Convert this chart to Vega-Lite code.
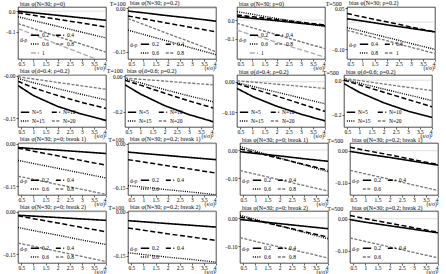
{
"$schema":"https://vega.github.io/schema/vega-lite/v6.json",
"padding":{"left":1,"right":1,"top":0,"bottom":0},
"background":"white",
"config":{
 "font":"Liberation Serif",
 "view":{"stroke":"#000","strokeWidth":0.7},
 "axis":{"labelFont":"Liberation Serif","labelFontSize":5.5,"titleFont":"Liberation Serif","titleFontSize":5.5,"titleFontWeight":"normal","domain":false,"grid":false,"tickSize":2,"tickColor":"#000","labelColor":"#000","labelPadding":1,"tickWidth":0.6},
 "axisX":{"titleAnchor":"end","titlePadding":-1,"labelPadding":0},
 "legend":{"orient":"bottom-left","direction":"horizontal","columns":2,"symbolType":"stroke","symbolSize":70,"labelFont":"Liberation Serif","labelFontSize":5.5,"titleFont":"Liberation Serif","titleFontSize":5.5,"titleFontWeight":"normal","titleOrient":"left","titlePadding":2,"padding":0,"offset":2,"rowPadding":-1,"columnPadding":3,"labelOffset":2,"titleBaseline":"bottom"},
 "title":{"font":"Liberation Serif","fontSize":6,"fontWeight":"normal","color":"#000"},
 "concat":{"spacing":4}
},
"data":{"values":[
{"p":1,"s":"0.2","x":0.36,"y":0},{"p":1,"s":"0.2","x":1,"y":-0.008},{"p":1,"s":"0.2","x":2,"y":-0.02},{"p":1,"s":"0.2","x":3,"y":-0.032},{"p":1,"s":"0.2","x":4,"y":-0.044},
{"p":1,"s":"0.4","x":0.36,"y":-0.008},{"p":1,"s":"0.4","x":1,"y":-0.02},{"p":1,"s":"0.4","x":2,"y":-0.039},{"p":1,"s":"0.4","x":3,"y":-0.057},{"p":1,"s":"0.4","x":4,"y":-0.076},
{"p":1,"s":"0.6","x":0.36,"y":-0.027},{"p":1,"s":"0.6","x":1,"y":-0.045},{"p":1,"s":"0.6","x":2,"y":-0.073},{"p":1,"s":"0.6","x":3,"y":-0.101},{"p":1,"s":"0.6","x":4,"y":-0.129},
{"p":1,"s":"0.8","x":0.36,"y":-0.06},{"p":1,"s":"0.8","x":1,"y":-0.084},{"p":1,"s":"0.8","x":2,"y":-0.122},{"p":1,"s":"0.8","x":3,"y":-0.159},{"p":1,"s":"0.8","x":4,"y":-0.197},
{"p":1,"s":"1","x":0.36,"y":-0.084},{"p":1,"s":"1","x":1,"y":-0.113},{"p":1,"s":"1","x":2,"y":-0.159},{"p":1,"s":"1","x":3,"y":-0.204},{"p":1,"s":"1","x":4,"y":-0.25},
{"p":2,"s":"0.2","x":0.36,"y":-0.009},{"p":2,"s":"0.2","x":1,"y":-0.015},{"p":2,"s":"0.2","x":2,"y":-0.025},{"p":2,"s":"0.2","x":3,"y":-0.034},{"p":2,"s":"0.2","x":4,"y":-0.044},
{"p":2,"s":"0.4","x":0.36,"y":-0.026},{"p":2,"s":"0.4","x":1,"y":-0.036},{"p":2,"s":"0.4","x":2,"y":-0.051},{"p":2,"s":"0.4","x":3,"y":-0.066},{"p":2,"s":"0.4","x":4,"y":-0.081},
{"p":2,"s":"0.6","x":0.36,"y":-0.075},{"p":2,"s":"0.6","x":1,"y":-0.09},{"p":2,"s":"0.6","x":2,"y":-0.113},{"p":2,"s":"0.6","x":3,"y":-0.137},{"p":2,"s":"0.6","x":4,"y":-0.16},
{"p":2,"s":"0.8","x":0.36,"y":-0.035},{"p":2,"s":"0.8","x":1,"y":-0.055},{"p":2,"s":"0.8","x":2,"y":-0.087},{"p":2,"s":"0.8","x":3,"y":-0.118},{"p":2,"s":"0.8","x":4,"y":-0.15},
{"p":3,"s":"0.2","x":0.36,"y":0.018},{"p":3,"s":"0.2","x":1,"y":0.009},{"p":3,"s":"0.2","x":2,"y":-0.004},{"p":3,"s":"0.2","x":3,"y":-0.018},{"p":3,"s":"0.2","x":4,"y":-0.031},
{"p":3,"s":"0.4","x":0.36,"y":0.027},{"p":3,"s":"0.4","x":1,"y":0.017},{"p":3,"s":"0.4","x":2,"y":0.003},{"p":3,"s":"0.4","x":3,"y":-0.012},{"p":3,"s":"0.4","x":4,"y":-0.027},
{"p":3,"s":"0.6","x":0.36,"y":0.045},{"p":3,"s":"0.6","x":1,"y":0.031},{"p":3,"s":"0.6","x":2,"y":0.008},{"p":3,"s":"0.6","x":3,"y":-0.014},{"p":3,"s":"0.6","x":4,"y":-0.036},
{"p":3,"s":"0.8","x":0.36,"y":-0.018},{"p":3,"s":"0.8","x":1,"y":-0.042},{"p":3,"s":"0.8","x":2,"y":-0.079},{"p":3,"s":"0.8","x":3,"y":-0.117},{"p":3,"s":"0.8","x":4,"y":-0.154},
{"p":3,"s":"1","x":0.36,"y":-0.055},{"p":3,"s":"1","x":1,"y":-0.081},{"p":3,"s":"1","x":2,"y":-0.12},{"p":3,"s":"1","x":3,"y":-0.16},{"p":3,"s":"1","x":4,"y":-0.2},
{"p":4,"s":"0.4","x":0.36,"y":0.012},{"p":4,"s":"0.4","x":1,"y":0.004},{"p":4,"s":"0.4","x":2,"y":-0.01},{"p":4,"s":"0.4","x":3,"y":-0.023},{"p":4,"s":"0.4","x":4,"y":-0.036},
{"p":4,"s":"0.6","x":0.36,"y":0.031},{"p":4,"s":"0.6","x":1,"y":0.019},{"p":4,"s":"0.6","x":2,"y":0.001},{"p":4,"s":"0.6","x":3,"y":-0.018},{"p":4,"s":"0.6","x":4,"y":-0.036},
{"p":4,"s":"0.8","x":0.36,"y":-0.02},{"p":4,"s":"0.8","x":1,"y":-0.034},{"p":4,"s":"0.8","x":2,"y":-0.056},{"p":4,"s":"0.8","x":3,"y":-0.078},{"p":4,"s":"0.8","x":4,"y":-0.1},
{"p":4,"s":"1","x":0.36,"y":-0.03},{"p":4,"s":"1","x":1,"y":-0.045},{"p":4,"s":"1","x":2,"y":-0.068},{"p":4,"s":"1","x":3,"y":-0.092},{"p":4,"s":"1","x":4,"y":-0.115},
{"p":5,"s":"N=5","x":0.36,"y":-0.035},{"p":5,"s":"N=5","x":1,"y":-0.07},{"p":5,"s":"N=5","x":2,"y":-0.108},{"p":5,"s":"N=5","x":3,"y":-0.135},{"p":5,"s":"N=5","x":4,"y":-0.157},
{"p":5,"s":"N=10","x":0.36,"y":-0.02},{"p":5,"s":"N=10","x":1,"y":-0.043},{"p":5,"s":"N=10","x":2,"y":-0.07},{"p":5,"s":"N=10","x":3,"y":-0.094},{"p":5,"s":"N=10","x":4,"y":-0.115},
{"p":5,"s":"N=15","x":0.36,"y":-0.01},{"p":5,"s":"N=15","x":1,"y":-0.025},{"p":5,"s":"N=15","x":2,"y":-0.046},{"p":5,"s":"N=15","x":3,"y":-0.066},{"p":5,"s":"N=15","x":4,"y":-0.085},
{"p":5,"s":"N=20","x":0.36,"y":-0.004},{"p":5,"s":"N=20","x":1,"y":-0.012},{"p":5,"s":"N=20","x":2,"y":-0.024},{"p":5,"s":"N=20","x":3,"y":-0.036},{"p":5,"s":"N=20","x":4,"y":-0.048},
{"p":6,"s":"N=5","x":0.36,"y":-0.048},{"p":6,"s":"N=5","x":1,"y":-0.1},{"p":6,"s":"N=5","x":2,"y":-0.165},{"p":6,"s":"N=5","x":3,"y":-0.215},{"p":6,"s":"N=5","x":4,"y":-0.255},
{"p":6,"s":"N=10","x":0.36,"y":-0.022},{"p":6,"s":"N=10","x":1,"y":-0.05},{"p":6,"s":"N=10","x":2,"y":-0.095},{"p":6,"s":"N=10","x":3,"y":-0.138},{"p":6,"s":"N=10","x":4,"y":-0.178},
{"p":6,"s":"N=15","x":0.36,"y":-0.014},{"p":6,"s":"N=15","x":1,"y":-0.037},{"p":6,"s":"N=15","x":2,"y":-0.075},{"p":6,"s":"N=15","x":3,"y":-0.11},{"p":6,"s":"N=15","x":4,"y":-0.143},
{"p":6,"s":"N=20","x":0.36,"y":-0.01},{"p":6,"s":"N=20","x":1,"y":-0.017},{"p":6,"s":"N=20","x":2,"y":-0.027},{"p":6,"s":"N=20","x":3,"y":-0.038},{"p":6,"s":"N=20","x":4,"y":-0.048},
{"p":7,"s":"N=5","x":0.36,"y":-0.022},{"p":7,"s":"N=5","x":1,"y":-0.048},{"p":7,"s":"N=5","x":2,"y":-0.08},{"p":7,"s":"N=5","x":3,"y":-0.106},{"p":7,"s":"N=5","x":4,"y":-0.128},
{"p":7,"s":"N=10","x":0.36,"y":-0.006},{"p":7,"s":"N=10","x":1,"y":-0.022},{"p":7,"s":"N=10","x":2,"y":-0.047},{"p":7,"s":"N=10","x":3,"y":-0.072},{"p":7,"s":"N=10","x":4,"y":-0.097},
{"p":7,"s":"N=15","x":0.36,"y":-0.003},{"p":7,"s":"N=15","x":1,"y":-0.015},{"p":7,"s":"N=15","x":2,"y":-0.034},{"p":7,"s":"N=15","x":3,"y":-0.053},{"p":7,"s":"N=15","x":4,"y":-0.072},
{"p":7,"s":"N=20","x":0.36,"y":0.003},{"p":7,"s":"N=20","x":1,"y":-0.001},{"p":7,"s":"N=20","x":2,"y":-0.008},{"p":7,"s":"N=20","x":3,"y":-0.015},{"p":7,"s":"N=20","x":4,"y":-0.022},
{"p":8,"s":"N=5","x":0.36,"y":-0.02},{"p":8,"s":"N=5","x":1,"y":-0.07},{"p":8,"s":"N=5","x":2,"y":-0.13},{"p":8,"s":"N=5","x":3,"y":-0.178},{"p":8,"s":"N=5","x":4,"y":-0.215},
{"p":8,"s":"N=10","x":0.36,"y":0},{"p":8,"s":"N=10","x":1,"y":-0.027},{"p":8,"s":"N=10","x":2,"y":-0.069},{"p":8,"s":"N=10","x":3,"y":-0.111},{"p":8,"s":"N=10","x":4,"y":-0.153},
{"p":8,"s":"N=15","x":0.36,"y":0.004},{"p":8,"s":"N=15","x":1,"y":-0.017},{"p":8,"s":"N=15","x":2,"y":-0.051},{"p":8,"s":"N=15","x":3,"y":-0.084},{"p":8,"s":"N=15","x":4,"y":-0.118},
{"p":8,"s":"N=20","x":0.36,"y":0.01},{"p":8,"s":"N=20","x":1,"y":-0.002},{"p":8,"s":"N=20","x":2,"y":-0.022},{"p":8,"s":"N=20","x":3,"y":-0.041},{"p":8,"s":"N=20","x":4,"y":-0.06},
{"p":9,"s":"0.2","x":0.36,"y":-0.013},{"p":9,"s":"0.2","x":1,"y":-0.017},{"p":9,"s":"0.2","x":2,"y":-0.022},{"p":9,"s":"0.2","x":3,"y":-0.028},{"p":9,"s":"0.2","x":4,"y":-0.034},
{"p":9,"s":"0.4","x":0.36,"y":-0.015},{"p":9,"s":"0.4","x":1,"y":-0.026},{"p":9,"s":"0.4","x":2,"y":-0.042},{"p":9,"s":"0.4","x":3,"y":-0.059},{"p":9,"s":"0.4","x":4,"y":-0.075},
{"p":9,"s":"0.6","x":0.36,"y":-0.058},{"p":9,"s":"0.6","x":1,"y":-0.069},{"p":9,"s":"0.6","x":2,"y":-0.086},{"p":9,"s":"0.6","x":3,"y":-0.103},{"p":9,"s":"0.6","x":4,"y":-0.12},
{"p":9,"s":"0.8","x":0.36,"y":-0.114},{"p":9,"s":"0.8","x":1,"y":-0.125},{"p":9,"s":"0.8","x":2,"y":-0.143},{"p":9,"s":"0.8","x":3,"y":-0.16},{"p":9,"s":"0.8","x":4,"y":-0.178},
{"p":10,"s":"0.2","x":0.36,"y":-0.028},{"p":10,"s":"0.2","x":1,"y":-0.033},{"p":10,"s":"0.2","x":2,"y":-0.04},{"p":10,"s":"0.2","x":3,"y":-0.047},{"p":10,"s":"0.2","x":4,"y":-0.054},
{"p":10,"s":"0.4","x":0.36,"y":-0.054},{"p":10,"s":"0.4","x":1,"y":-0.062},{"p":10,"s":"0.4","x":2,"y":-0.075},{"p":10,"s":"0.4","x":3,"y":-0.087},{"p":10,"s":"0.4","x":4,"y":-0.1},
{"p":10,"s":"0.6","x":0.36,"y":-0.143},{"p":10,"s":"0.6","x":1,"y":-0.148},{"p":10,"s":"0.6","x":2,"y":-0.157},{"p":10,"s":"0.6","x":3,"y":-0.165},{"p":10,"s":"0.6","x":4,"y":-0.174},
{"p":11,"s":"0.2","x":0.36,"y":-0.006},{"p":11,"s":"0.2","x":1,"y":-0.012},{"p":11,"s":"0.2","x":2,"y":-0.021},{"p":11,"s":"0.2","x":3,"y":-0.031},{"p":11,"s":"0.2","x":4,"y":-0.04},
{"p":11,"s":"0.4","x":0.36,"y":0.004},{"p":11,"s":"0.4","x":1,"y":-0.009},{"p":11,"s":"0.4","x":2,"y":-0.03},{"p":11,"s":"0.4","x":3,"y":-0.051},{"p":11,"s":"0.4","x":4,"y":-0.072},
{"p":11,"s":"0.6","x":0.36,"y":0.012},{"p":11,"s":"0.6","x":1,"y":-0.004},{"p":11,"s":"0.6","x":2,"y":-0.028},{"p":11,"s":"0.6","x":3,"y":-0.053},{"p":11,"s":"0.6","x":4,"y":-0.077},
{"p":11,"s":"0.8","x":0.36,"y":-0.073},{"p":11,"s":"0.8","x":1,"y":-0.086},{"p":11,"s":"0.8","x":2,"y":-0.106},{"p":11,"s":"0.8","x":3,"y":-0.126},{"p":11,"s":"0.8","x":4,"y":-0.146},
{"p":12,"s":"0.2","x":0.36,"y":-0.002},{"p":12,"s":"0.2","x":1,"y":-0.01},{"p":12,"s":"0.2","x":2,"y":-0.021},{"p":12,"s":"0.2","x":3,"y":-0.033},{"p":12,"s":"0.2","x":4,"y":-0.045},
{"p":12,"s":"0.4","x":0.36,"y":0.011},{"p":12,"s":"0.4","x":1,"y":0.001},{"p":12,"s":"0.4","x":2,"y":-0.013},{"p":12,"s":"0.4","x":3,"y":-0.028},{"p":12,"s":"0.4","x":4,"y":-0.043},
{"p":12,"s":"0.6","x":0.36,"y":-0.061},{"p":12,"s":"0.6","x":1,"y":-0.072},{"p":12,"s":"0.6","x":2,"y":-0.089},{"p":12,"s":"0.6","x":3,"y":-0.107},{"p":12,"s":"0.6","x":4,"y":-0.124},
{"p":13,"s":"0.2","x":0.36,"y":-0.012},{"p":13,"s":"0.2","x":1,"y":-0.015},{"p":13,"s":"0.2","x":2,"y":-0.02},{"p":13,"s":"0.2","x":3,"y":-0.025},{"p":13,"s":"0.2","x":4,"y":-0.03},
{"p":13,"s":"0.4","x":0.36,"y":-0.014},{"p":13,"s":"0.4","x":1,"y":-0.024},{"p":13,"s":"0.4","x":2,"y":-0.039},{"p":13,"s":"0.4","x":3,"y":-0.055},{"p":13,"s":"0.4","x":4,"y":-0.07},
{"p":13,"s":"0.6","x":0.36,"y":-0.055},{"p":13,"s":"0.6","x":1,"y":-0.066},{"p":13,"s":"0.6","x":2,"y":-0.082},{"p":13,"s":"0.6","x":3,"y":-0.099},{"p":13,"s":"0.6","x":4,"y":-0.115},
{"p":13,"s":"0.8","x":0.36,"y":-0.11},{"p":13,"s":"0.8","x":1,"y":-0.121},{"p":13,"s":"0.8","x":2,"y":-0.139},{"p":13,"s":"0.8","x":3,"y":-0.157},{"p":13,"s":"0.8","x":4,"y":-0.175},
{"p":14,"s":"0.2","x":0.36,"y":-0.03},{"p":14,"s":"0.2","x":1,"y":-0.034},{"p":14,"s":"0.2","x":2,"y":-0.04},{"p":14,"s":"0.2","x":3,"y":-0.046},{"p":14,"s":"0.2","x":4,"y":-0.052},
{"p":14,"s":"0.4","x":0.36,"y":-0.055},{"p":14,"s":"0.4","x":1,"y":-0.063},{"p":14,"s":"0.4","x":2,"y":-0.075},{"p":14,"s":"0.4","x":3,"y":-0.086},{"p":14,"s":"0.4","x":4,"y":-0.098},
{"p":14,"s":"0.6","x":0.36,"y":-0.14},{"p":14,"s":"0.6","x":1,"y":-0.146},{"p":14,"s":"0.6","x":2,"y":-0.155},{"p":14,"s":"0.6","x":3,"y":-0.163},{"p":14,"s":"0.6","x":4,"y":-0.172},
{"p":15,"s":"0.2","x":0.36,"y":-0.005},{"p":15,"s":"0.2","x":1,"y":-0.011},{"p":15,"s":"0.2","x":2,"y":-0.02},{"p":15,"s":"0.2","x":3,"y":-0.029},{"p":15,"s":"0.2","x":4,"y":-0.038},
{"p":15,"s":"0.4","x":0.36,"y":0.004},{"p":15,"s":"0.4","x":1,"y":-0.008},{"p":15,"s":"0.4","x":2,"y":-0.028},{"p":15,"s":"0.4","x":3,"y":-0.048},{"p":15,"s":"0.4","x":4,"y":-0.068},
{"p":15,"s":"0.6","x":0.36,"y":0.01},{"p":15,"s":"0.6","x":1,"y":-0.005},{"p":15,"s":"0.6","x":2,"y":-0.028},{"p":15,"s":"0.6","x":3,"y":-0.051},{"p":15,"s":"0.6","x":4,"y":-0.074},
{"p":15,"s":"0.8","x":0.36,"y":-0.07},{"p":15,"s":"0.8","x":1,"y":-0.083},{"p":15,"s":"0.8","x":2,"y":-0.103},{"p":15,"s":"0.8","x":3,"y":-0.122},{"p":15,"s":"0.8","x":4,"y":-0.142},
{"p":16,"s":"0.2","x":0.36,"y":-0.003},{"p":16,"s":"0.2","x":1,"y":-0.011},{"p":16,"s":"0.2","x":2,"y":-0.022},{"p":16,"s":"0.2","x":3,"y":-0.033},{"p":16,"s":"0.2","x":4,"y":-0.044},
{"p":16,"s":"0.4","x":0.36,"y":0.01},{"p":16,"s":"0.4","x":1,"y":0},{"p":16,"s":"0.4","x":2,"y":-0.014},{"p":16,"s":"0.4","x":3,"y":-0.028},{"p":16,"s":"0.4","x":4,"y":-0.042},
{"p":16,"s":"0.6","x":0.36,"y":-0.06},{"p":16,"s":"0.6","x":1,"y":-0.071},{"p":16,"s":"0.6","x":2,"y":-0.088},{"p":16,"s":"0.6","x":3,"y":-0.105},{"p":16,"s":"0.6","x":4,"y":-0.122}
]},
"resolve":{"scale":{"color":"independent","strokeDash":"independent","strokeWidth":"independent"},"legend":{"color":"independent","strokeDash":"independent","strokeWidth":"independent"}},
"spacing":-5,
"vconcat":[
{"resolve":{"scale":{"color":"independent","strokeDash":"independent","strokeWidth":"independent"},"legend":{"color":"independent","strokeDash":"independent","strokeWidth":"independent"}},"spacing":6,
 "hconcat":[
 {"title":{"text":"T=100","anchor":"middle","offset":-7,"dx":7},"resolve":{"scale":{"color":"independent","strokeDash":"independent","strokeWidth":"independent"},"legend":{"color":"independent","strokeDash":"independent","strokeWidth":"independent"}},"spacing":4,
  "hconcat":[
  {"width":88,"height":52,"title":{"text":"bias φ(N=30; ρ=0)","frame":"group","anchor":"start","dx":2,"offset":0},
   "layer":[
    {"data":{"values":[{}]},"mark":{"type":"rule","color":"#bbb","strokeWidth":0.5},"encoding":{"y":{"datum":0,"type":"quantitative"}}},
    {"transform":[{"filter":"datum.p==1"}],"mark":{"type":"line","clip":true},"encoding":{
     "x":{"field":"x","type":"quantitative","scale":{"domain":[0.36,4],"nice":false},"axis":{"values":[0.5,1,1.5,2,2.5,3,3.5,4],"format":"~g","title":"(s/σ)²"}},
     "y":{"field":"y","type":"quantitative","scale":{"domain":[-0.23,0.02],"nice":false,"zero":false},"axis":{"values":[0,-0.1],"format":".1f","title":null}},
     "color":{"field":"s","type":"ordinal","scale":{"domain":["0.2","0.4","0.6","0.8","1"],"range":["#000","#000","#000","#777","#aaa"]},"legend":{"title":"d-ρ"}},
     "strokeDash":{"field":"s","type":"ordinal","scale":{"domain":["0.2","0.4","0.6","0.8","1"],"range":[[1,0],[5,2.5],[1,1.2],[3,1.5],[5,2]]},"legend":{"title":"d-ρ"}},
     "strokeWidth":{"field":"s","type":"ordinal","scale":{"domain":["0.2","0.4","0.6","0.8","1"],"range":[1.6,1.3,1,0.6,0.6]},"legend":{"title":"d-ρ"}}}}
   ]},
  {"width":88,"height":52,"title":{"text":"bias φ(N=30; ρ=0.2)","frame":"group","anchor":"start","dx":2,"offset":0},
   "layer":[
    {"data":{"values":[{}]},"mark":{"type":"rule","color":"#bbb","strokeWidth":0.5},"encoding":{"y":{"datum":0,"type":"quantitative"}}},
    {"transform":[{"filter":"datum.p==2"}],"mark":{"type":"line","clip":true},"encoding":{
     "x":{"field":"x","type":"quantitative","scale":{"domain":[0.36,4],"nice":false},"axis":{"values":[0.5,1,1.5,2,2.5,3,3.5,4],"format":"~g","title":"(s/σ)²"}},
     "y":{"field":"y","type":"quantitative","scale":{"domain":[-0.175,0.005],"nice":false,"zero":false},"axis":{"values":[0,-0.05,-0.1,-0.15],"format":".2f","title":null}},
     "color":{"field":"s","type":"ordinal","scale":{"domain":["0.2","0.4","0.6","0.8"],"range":["#000","#000","#000","#777"]},"legend":{"title":"d-ρ"}},
     "strokeDash":{"field":"s","type":"ordinal","scale":{"domain":["0.2","0.4","0.6","0.8"],"range":[[1,0],[5,2.5],[1,1.2],[3,1.5]]},"legend":{"title":"d-ρ"}},
     "strokeWidth":{"field":"s","type":"ordinal","scale":{"domain":["0.2","0.4","0.6","0.8"],"range":[1.6,1.3,1,0.6]},"legend":{"title":"d-ρ"}}}}
   ]}
  ]},
 {"title":{"text":"T=500","anchor":"middle","offset":-7,"dx":4},"resolve":{"scale":{"color":"independent","strokeDash":"independent","strokeWidth":"independent"},"legend":{"color":"independent","strokeDash":"independent","strokeWidth":"independent"}},"spacing":4,
  "hconcat":[
  {"width":88,"height":52,"title":{"text":"bias φ(N=30; ρ=0)","frame":"group","anchor":"start","dx":2,"offset":0},
   "layer":[
    {"data":{"values":[{}]},"mark":{"type":"rule","color":"#bbb","strokeWidth":0.5},"encoding":{"y":{"datum":0,"type":"quantitative"}}},
    {"transform":[{"filter":"datum.p==3"}],"mark":{"type":"line","clip":true},"encoding":{
     "x":{"field":"x","type":"quantitative","scale":{"domain":[0.36,4],"nice":false},"axis":{"values":[0.5,1,1.5,2,2.5,3,3.5,4],"format":"~g","title":"(s/σ)²"}},
     "y":{"field":"y","type":"quantitative","scale":{"domain":[-0.21,0.07],"nice":false,"zero":false},"axis":{"values":[0,-0.1],"format":".1f","title":null}},
     "color":{"field":"s","type":"ordinal","scale":{"domain":["0.2","0.4","0.6","0.8","1"],"range":["#000","#000","#000","#777","#aaa"]},"legend":{"title":"d-ρ"}},
     "strokeDash":{"field":"s","type":"ordinal","scale":{"domain":["0.2","0.4","0.6","0.8","1"],"range":[[1,0],[5,2.5],[1,1.2],[3,1.5],[5,2]]},"legend":{"title":"d-ρ"}},
     "strokeWidth":{"field":"s","type":"ordinal","scale":{"domain":["0.2","0.4","0.6","0.8","1"],"range":[1.6,1.3,1,0.6,0.6]},"legend":{"title":"d-ρ"}}}}
   ]},
  {"width":88,"height":52,"title":{"text":"bias φ(N=30; ρ=0.2)","frame":"group","anchor":"start","dx":2,"offset":0},
   "layer":[
    {"data":{"values":[{}]},"mark":{"type":"rule","color":"#bbb","strokeWidth":0.5},"encoding":{"y":{"datum":0,"type":"quantitative"}}},
    {"transform":[{"filter":"datum.p==4"}],"mark":{"type":"line","clip":true},"encoding":{
     "x":{"field":"x","type":"quantitative","scale":{"domain":[0.36,4],"nice":false},"axis":{"values":[0.5,1,1.5,2,2.5,3,3.5,4],"format":"~g","title":"(s/σ)²"}},
     "y":{"field":"y","type":"quantitative","scale":{"domain":[-0.135,0.055],"nice":false,"zero":false},"axis":{"values":[0.05,0,-0.05,-0.1],"format":".2f","title":null}},
     "color":{"field":"s","type":"ordinal","scale":{"domain":["0.4","0.6","0.8","1"],"range":["#000","#000","#000","#777"]},"legend":{"title":"d-ρ"}},
     "strokeDash":{"field":"s","type":"ordinal","scale":{"domain":["0.4","0.6","0.8","1"],"range":[[1,0],[5,2.5],[1,1.2],[3,1.5]]},"legend":{"title":"d-ρ"}},
     "strokeWidth":{"field":"s","type":"ordinal","scale":{"domain":["0.4","0.6","0.8","1"],"range":[1.6,1.3,1,0.6]},"legend":{"title":"d-ρ"}}}}
   ]}
  ]}
 ]},
{"resolve":{"scale":{"color":"independent","strokeDash":"independent","strokeWidth":"independent"},"legend":{"color":"independent","strokeDash":"independent","strokeWidth":"independent"}},"spacing":6,
 "hconcat":[
 {"title":{"text":"T=100","anchor":"middle","offset":-7,"dx":7},"resolve":{"scale":{"color":"independent","strokeDash":"independent","strokeWidth":"independent"},"legend":{"color":"independent","strokeDash":"independent","strokeWidth":"independent"}},"spacing":4,
  "hconcat":[
  {"width":88,"height":52,"title":{"text":"bias φ(d=0.4; ρ=0.2)","frame":"group","anchor":"start","dx":2,"offset":0},
   "layer":[
    {"data":{"values":[{}]},"mark":{"type":"rule","color":"#bbb","strokeWidth":0.5},"encoding":{"y":{"datum":0,"type":"quantitative"}}},
    {"transform":[{"filter":"datum.p==5"}],"mark":{"type":"line","clip":true},"encoding":{
     "x":{"field":"x","type":"quantitative","scale":{"domain":[0.36,4],"nice":false},"axis":{"values":[0.5,1,1.5,2,2.5,3,3.5,4],"format":"~g","title":"(s/σ)²"}},
     "y":{"field":"y","type":"quantitative","scale":{"domain":[-0.18,0.002],"nice":false,"zero":false},"axis":{"values":[0,-0.05,-0.1,-0.15],"labelExpr":"datum.value==0?'-0.00':format(datum.value,'.2f')","title":null}},
     "color":{"field":"s","type":"ordinal","scale":{"domain":["N=5","N=10","N=15","N=20"],"range":["#000","#000","#000","#777"]},"legend":{"title":null}},
     "strokeDash":{"field":"s","type":"ordinal","scale":{"domain":["N=5","N=10","N=15","N=20"],"range":[[1,0],[5,2.5],[1,1.2],[3,1.5]]},"legend":{"title":null}},
     "strokeWidth":{"field":"s","type":"ordinal","scale":{"domain":["N=5","N=10","N=15","N=20"],"range":[1.6,1.3,1,0.6]},"legend":{"title":null}}}}
   ]},
  {"width":88,"height":52,"title":{"text":"bias φ(d=0.6; ρ=0.2)","frame":"group","anchor":"start","dx":2,"offset":0},
   "layer":[
    {"data":{"values":[{}]},"mark":{"type":"rule","color":"#bbb","strokeWidth":0.5},"encoding":{"y":{"datum":0,"type":"quantitative"}}},
    {"transform":[{"filter":"datum.p==6"}],"mark":{"type":"line","clip":true},"encoding":{
     "x":{"field":"x","type":"quantitative","scale":{"domain":[0.36,4],"nice":false},"axis":{"values":[0.5,1,1.5,2,2.5,3,3.5,4],"format":"~g","title":"(s/σ)²"}},
     "y":{"field":"y","type":"quantitative","scale":{"domain":[-0.285,0.007],"nice":false,"zero":false},"axis":{"values":[0,-0.1,-0.2],"labelExpr":"datum.value==0?'0.00':format(datum.value,'.1f')","title":null}},
     "color":{"field":"s","type":"ordinal","scale":{"domain":["N=5","N=10","N=15","N=20"],"range":["#000","#000","#000","#777"]},"legend":{"title":null}},
     "strokeDash":{"field":"s","type":"ordinal","scale":{"domain":["N=5","N=10","N=15","N=20"],"range":[[1,0],[5,2.5],[1,1.2],[3,1.5]]},"legend":{"title":null}},
     "strokeWidth":{"field":"s","type":"ordinal","scale":{"domain":["N=5","N=10","N=15","N=20"],"range":[1.6,1.3,1,0.6]},"legend":{"title":null}}}}
   ]}
  ]},
 {"title":{"text":"T=500","anchor":"middle","offset":-7,"dx":4},"resolve":{"scale":{"color":"independent","strokeDash":"independent","strokeWidth":"independent"},"legend":{"color":"independent","strokeDash":"independent","strokeWidth":"independent"}},"spacing":4,
  "hconcat":[
  {"width":88,"height":52,"title":{"text":"bias φ(d=0.4; ρ=0.2)","frame":"group","anchor":"start","dx":2,"offset":0},
   "layer":[
    {"data":{"values":[{}]},"mark":{"type":"rule","color":"#bbb","strokeWidth":0.5},"encoding":{"y":{"datum":0,"type":"quantitative"}}},
    {"transform":[{"filter":"datum.p==7"}],"mark":{"type":"line","clip":true},"encoding":{
     "x":{"field":"x","type":"quantitative","scale":{"domain":[0.36,4],"nice":false},"axis":{"values":[0.5,1,1.5,2,2.5,3,3.5,4],"format":"~g","title":"(s/σ)²"}},
     "y":{"field":"y","type":"quantitative","scale":{"domain":[-0.148,0.022],"nice":false,"zero":false},"axis":{"values":[0,-0.05,-0.1],"format":".2f","title":null}},
     "color":{"field":"s","type":"ordinal","scale":{"domain":["N=5","N=10","N=15","N=20"],"range":["#000","#000","#000","#777"]},"legend":{"title":null}},
     "strokeDash":{"field":"s","type":"ordinal","scale":{"domain":["N=5","N=10","N=15","N=20"],"range":[[1,0],[5,2.5],[1,1.2],[3,1.5]]},"legend":{"title":null}},
     "strokeWidth":{"field":"s","type":"ordinal","scale":{"domain":["N=5","N=10","N=15","N=20"],"range":[1.6,1.3,1,0.6]},"legend":{"title":null}}}}
   ]},
  {"width":88,"height":52,"title":{"text":"bias φ(d=0.6; ρ=0.2)","frame":"group","anchor":"start","dx":2,"offset":0},
   "layer":[
    {"data":{"values":[{}]},"mark":{"type":"rule","color":"#bbb","strokeWidth":0.5},"encoding":{"y":{"datum":0,"type":"quantitative"}}},
    {"transform":[{"filter":"datum.p==8"}],"mark":{"type":"line","clip":true},"encoding":{
     "x":{"field":"x","type":"quantitative","scale":{"domain":[0.36,4],"nice":false},"axis":{"values":[0.5,1,1.5,2,2.5,3,3.5,4],"format":"~g","title":"(s/σ)²"}},
     "y":{"field":"y","type":"quantitative","scale":{"domain":[-0.27,0.03],"nice":false,"zero":false},"axis":{"values":[0,-0.1,-0.2],"format":".1f","title":null}},
     "color":{"field":"s","type":"ordinal","scale":{"domain":["N=5","N=10","N=15","N=20"],"range":["#000","#000","#000","#777"]},"legend":{"title":null}},
     "strokeDash":{"field":"s","type":"ordinal","scale":{"domain":["N=5","N=10","N=15","N=20"],"range":[[1,0],[5,2.5],[1,1.2],[3,1.5]]},"legend":{"title":null}},
     "strokeWidth":{"field":"s","type":"ordinal","scale":{"domain":["N=5","N=10","N=15","N=20"],"range":[1.6,1.3,1,0.6]},"legend":{"title":null}}}}
   ]}
  ]}
 ]},
{"resolve":{"scale":{"color":"independent","strokeDash":"independent","strokeWidth":"independent"},"legend":{"color":"independent","strokeDash":"independent","strokeWidth":"independent"}},"spacing":6,
 "hconcat":[
 {"title":{"text":"T=100","anchor":"middle","offset":-7,"dx":7},"resolve":{"scale":{"color":"independent","strokeDash":"independent","strokeWidth":"independent"},"legend":{"color":"independent","strokeDash":"independent","strokeWidth":"independent"}},"spacing":4,
  "hconcat":[
  {"width":88,"height":52,"title":{"text":"bias φ(N=30; ρ=0; break 1)","frame":"group","anchor":"start","dx":2,"offset":0},
   "layer":[
    {"data":{"values":[{}]},"mark":{"type":"rule","color":"#bbb","strokeWidth":0.5},"encoding":{"y":{"datum":0,"type":"quantitative"}}},
    {"transform":[{"filter":"datum.p==9"}],"mark":{"type":"line","clip":true},"encoding":{
     "x":{"field":"x","type":"quantitative","scale":{"domain":[0.36,4],"nice":false},"axis":{"values":[0.5,1,1.5,2,2.5,3,3.5,4],"format":"~g","title":"(s/σ)²"}},
     "y":{"field":"y","type":"quantitative","scale":{"domain":[-0.18,0.003],"nice":false,"zero":false},"axis":{"values":[0,-0.05,-0.1,-0.15],"format":".2f","title":null}},
     "color":{"field":"s","type":"ordinal","scale":{"domain":["0.2","0.4","0.6","0.8"],"range":["#000","#000","#000","#777"]},"legend":{"title":"d-ρ"}},
     "strokeDash":{"field":"s","type":"ordinal","scale":{"domain":["0.2","0.4","0.6","0.8"],"range":[[1,0],[5,2.5],[1,1.2],[3,1.5]]},"legend":{"title":"d-ρ"}},
     "strokeWidth":{"field":"s","type":"ordinal","scale":{"domain":["0.2","0.4","0.6","0.8"],"range":[1.6,1.3,1,0.6]},"legend":{"title":"d-ρ"}}}}
   ]},
  {"width":88,"height":52,"title":{"text":"bias φ(N=30; ρ=0.2; break 1)","frame":"group","anchor":"start","dx":2,"offset":0},
   "layer":[
    {"data":{"values":[{}]},"mark":{"type":"rule","color":"#bbb","strokeWidth":0.5},"encoding":{"y":{"datum":0,"type":"quantitative"}}},
    {"transform":[{"filter":"datum.p==10"}],"mark":{"type":"line","clip":true},"encoding":{
     "x":{"field":"x","type":"quantitative","scale":{"domain":[0.36,4],"nice":false},"axis":{"values":[0.5,1,1.5,2,2.5,3,3.5,4],"format":"~g","title":"(s/σ)²"}},
     "y":{"field":"y","type":"quantitative","scale":{"domain":[-0.175,0.003],"nice":false,"zero":false},"axis":{"values":[0,-0.05,-0.1,-0.15],"format":".2f","title":null}},
     "color":{"field":"s","type":"ordinal","scale":{"domain":["0.2","0.4","0.6"],"range":["#000","#000","#000"]},"legend":{"title":"d-ρ"}},
     "strokeDash":{"field":"s","type":"ordinal","scale":{"domain":["0.2","0.4","0.6"],"range":[[1,0],[5,2.5],[1,1.2]]},"legend":{"title":"d-ρ"}},
     "strokeWidth":{"field":"s","type":"ordinal","scale":{"domain":["0.2","0.4","0.6"],"range":[1.6,1.3,1]},"legend":{"title":"d-ρ"}}}}
   ]}
  ]},
 {"title":{"text":"T=500","anchor":"middle","offset":-7,"dx":4},"resolve":{"scale":{"color":"independent","strokeDash":"independent","strokeWidth":"independent"},"legend":{"color":"independent","strokeDash":"independent","strokeWidth":"independent"}},"spacing":4,
  "hconcat":[
  {"width":88,"height":52,"title":{"text":"bias φ(N=30; ρ=0; break 1)","frame":"group","anchor":"start","dx":2,"offset":0},
   "layer":[
    {"data":{"values":[{}]},"mark":{"type":"rule","color":"#bbb","strokeWidth":0.5},"encoding":{"y":{"datum":0,"type":"quantitative"}}},
    {"transform":[{"filter":"datum.p==11"}],"mark":{"type":"line","clip":true},"encoding":{
     "x":{"field":"x","type":"quantitative","scale":{"domain":[0.36,4],"nice":false},"axis":{"values":[0.5,1,1.5,2,2.5,3,3.5,4],"format":"~g","title":"(s/σ)²"}},
     "y":{"field":"y","type":"quantitative","scale":{"domain":[-0.16,0.025],"nice":false,"zero":false},"axis":{"values":[0,-0.05,-0.1],"format":".2f","title":null}},
     "color":{"field":"s","type":"ordinal","scale":{"domain":["0.2","0.4","0.6","0.8"],"range":["#000","#000","#000","#777"]},"legend":{"title":"d-ρ"}},
     "strokeDash":{"field":"s","type":"ordinal","scale":{"domain":["0.2","0.4","0.6","0.8"],"range":[[1,0],[5,2.5],[1,1.2],[3,1.5]]},"legend":{"title":"d-ρ"}},
     "strokeWidth":{"field":"s","type":"ordinal","scale":{"domain":["0.2","0.4","0.6","0.8"],"range":[1.6,1.3,1,0.6]},"legend":{"title":"d-ρ"}}}}
   ]},
  {"width":88,"height":52,"title":{"text":"bias φ(N=30; ρ=0.2; break 1)","frame":"group","anchor":"start","dx":2,"offset":0},
   "layer":[
    {"data":{"values":[{}]},"mark":{"type":"rule","color":"#bbb","strokeWidth":0.5},"encoding":{"y":{"datum":0,"type":"quantitative"}}},
    {"transform":[{"filter":"datum.p==12"}],"mark":{"type":"line","clip":true},"encoding":{
     "x":{"field":"x","type":"quantitative","scale":{"domain":[0.36,4],"nice":false},"axis":{"values":[0.5,1,1.5,2,2.5,3,3.5,4],"format":"~g","title":"(s/σ)²"}},
     "y":{"field":"y","type":"quantitative","scale":{"domain":[-0.138,0.024],"nice":false,"zero":false},"axis":{"values":[0,-0.05,-0.1],"format":".2f","title":null}},
     "color":{"field":"s","type":"ordinal","scale":{"domain":["0.2","0.4","0.6"],"range":["#000","#000","#777"]},"legend":{"title":"d-ρ"}},
     "strokeDash":{"field":"s","type":"ordinal","scale":{"domain":["0.2","0.4","0.6"],"range":[[1,0],[5,2.5],[3,1.5]]},"legend":{"title":"d-ρ"}},
     "strokeWidth":{"field":"s","type":"ordinal","scale":{"domain":["0.2","0.4","0.6"],"range":[1.6,1.3,0.6]},"legend":{"title":"d-ρ"}}}}
   ]}
  ]}
 ]},
{"resolve":{"scale":{"color":"independent","strokeDash":"independent","strokeWidth":"independent"},"legend":{"color":"independent","strokeDash":"independent","strokeWidth":"independent"}},"spacing":6,
 "hconcat":[
 {"title":{"text":"T=100","anchor":"middle","offset":-7,"dx":7},"resolve":{"scale":{"color":"independent","strokeDash":"independent","strokeWidth":"independent"},"legend":{"color":"independent","strokeDash":"independent","strokeWidth":"independent"}},"spacing":4,
  "hconcat":[
  {"width":88,"height":52,"title":{"text":"bias φ(N=30; ρ=0; break 2)","frame":"group","anchor":"start","dx":2,"offset":0},
   "layer":[
    {"data":{"values":[{}]},"mark":{"type":"rule","color":"#bbb","strokeWidth":0.5},"encoding":{"y":{"datum":0,"type":"quantitative"}}},
    {"transform":[{"filter":"datum.p==13"}],"mark":{"type":"line","clip":true},"encoding":{
     "x":{"field":"x","type":"quantitative","scale":{"domain":[0.36,4],"nice":false},"axis":{"values":[0.5,1,1.5,2,2.5,3,3.5,4],"format":"~g","title":"(s/σ)²"}},
     "y":{"field":"y","type":"quantitative","scale":{"domain":[-0.18,0.003],"nice":false,"zero":false},"axis":{"values":[0,-0.05,-0.1,-0.15],"format":".2f","title":null}},
     "color":{"field":"s","type":"ordinal","scale":{"domain":["0.2","0.4","0.6","0.8"],"range":["#000","#000","#000","#777"]},"legend":{"title":"d-ρ"}},
     "strokeDash":{"field":"s","type":"ordinal","scale":{"domain":["0.2","0.4","0.6","0.8"],"range":[[1,0],[5,2.5],[1,1.2],[3,1.5]]},"legend":{"title":"d-ρ"}},
     "strokeWidth":{"field":"s","type":"ordinal","scale":{"domain":["0.2","0.4","0.6","0.8"],"range":[1.6,1.3,1,0.6]},"legend":{"title":"d-ρ"}}}}
   ]},
  {"width":88,"height":52,"title":{"text":"bias φ(N=30; ρ=0.2; break 2)","frame":"group","anchor":"start","dx":2,"offset":0},
   "layer":[
    {"data":{"values":[{}]},"mark":{"type":"rule","color":"#bbb","strokeWidth":0.5},"encoding":{"y":{"datum":0,"type":"quantitative"}}},
    {"transform":[{"filter":"datum.p==14"}],"mark":{"type":"line","clip":true},"encoding":{
     "x":{"field":"x","type":"quantitative","scale":{"domain":[0.36,4],"nice":false},"axis":{"values":[0.5,1,1.5,2,2.5,3,3.5,4],"format":"~g","title":"(s/σ)²"}},
     "y":{"field":"y","type":"quantitative","scale":{"domain":[-0.175,0.003],"nice":false,"zero":false},"axis":{"values":[0,-0.05,-0.1,-0.15],"format":".2f","title":null}},
     "color":{"field":"s","type":"ordinal","scale":{"domain":["0.2","0.4","0.6"],"range":["#000","#000","#000"]},"legend":{"title":"d-ρ"}},
     "strokeDash":{"field":"s","type":"ordinal","scale":{"domain":["0.2","0.4","0.6"],"range":[[1,0],[5,2.5],[1,1.2]]},"legend":{"title":"d-ρ"}},
     "strokeWidth":{"field":"s","type":"ordinal","scale":{"domain":["0.2","0.4","0.6"],"range":[1.6,1.3,1]},"legend":{"title":"d-ρ"}}}}
   ]}
  ]},
 {"title":{"text":"T=500","anchor":"middle","offset":-7,"dx":4},"resolve":{"scale":{"color":"independent","strokeDash":"independent","strokeWidth":"independent"},"legend":{"color":"independent","strokeDash":"independent","strokeWidth":"independent"}},"spacing":4,
  "hconcat":[
  {"width":88,"height":52,"title":{"text":"bias φ(N=30; ρ=0; break 2)","frame":"group","anchor":"start","dx":2,"offset":0},
   "layer":[
    {"data":{"values":[{}]},"mark":{"type":"rule","color":"#bbb","strokeWidth":0.5},"encoding":{"y":{"datum":0,"type":"quantitative"}}},
    {"transform":[{"filter":"datum.p==15"}],"mark":{"type":"line","clip":true},"encoding":{
     "x":{"field":"x","type":"quantitative","scale":{"domain":[0.36,4],"nice":false},"axis":{"values":[0.5,1,1.5,2,2.5,3,3.5,4],"format":"~g","title":"(s/σ)²"}},
     "y":{"field":"y","type":"quantitative","scale":{"domain":[-0.16,0.025],"nice":false,"zero":false},"axis":{"values":[0,-0.05,-0.1],"format":".2f","title":null}},
     "color":{"field":"s","type":"ordinal","scale":{"domain":["0.2","0.4","0.6","0.8"],"range":["#000","#000","#000","#777"]},"legend":{"title":"d-ρ"}},
     "strokeDash":{"field":"s","type":"ordinal","scale":{"domain":["0.2","0.4","0.6","0.8"],"range":[[1,0],[5,2.5],[1,1.2],[3,1.5]]},"legend":{"title":"d-ρ"}},
     "strokeWidth":{"field":"s","type":"ordinal","scale":{"domain":["0.2","0.4","0.6","0.8"],"range":[1.6,1.3,1,0.6]},"legend":{"title":"d-ρ"}}}}
   ]},
  {"width":88,"height":52,"title":{"text":"bias φ(N=30; ρ=0.2; break 2)","frame":"group","anchor":"start","dx":2,"offset":0},
   "layer":[
    {"data":{"values":[{}]},"mark":{"type":"rule","color":"#bbb","strokeWidth":0.5},"encoding":{"y":{"datum":0,"type":"quantitative"}}},
    {"transform":[{"filter":"datum.p==16"}],"mark":{"type":"line","clip":true},"encoding":{
     "x":{"field":"x","type":"quantitative","scale":{"domain":[0.36,4],"nice":false},"axis":{"values":[0.5,1,1.5,2,2.5,3,3.5,4],"format":"~g","title":"(s/σ)²"}},
     "y":{"field":"y","type":"quantitative","scale":{"domain":[-0.138,0.024],"nice":false,"zero":false},"axis":{"values":[0,-0.05,-0.1],"format":".2f","title":null}},
     "color":{"field":"s","type":"ordinal","scale":{"domain":["0.2","0.4","0.6"],"range":["#000","#000","#777"]},"legend":{"title":"d-ρ"}},
     "strokeDash":{"field":"s","type":"ordinal","scale":{"domain":["0.2","0.4","0.6"],"range":[[1,0],[5,2.5],[3,1.5]]},"legend":{"title":"d-ρ"}},
     "strokeWidth":{"field":"s","type":"ordinal","scale":{"domain":["0.2","0.4","0.6"],"range":[1.6,1.3,0.6]},"legend":{"title":"d-ρ"}}}}
   ]}
  ]}
 ]}
]
}
